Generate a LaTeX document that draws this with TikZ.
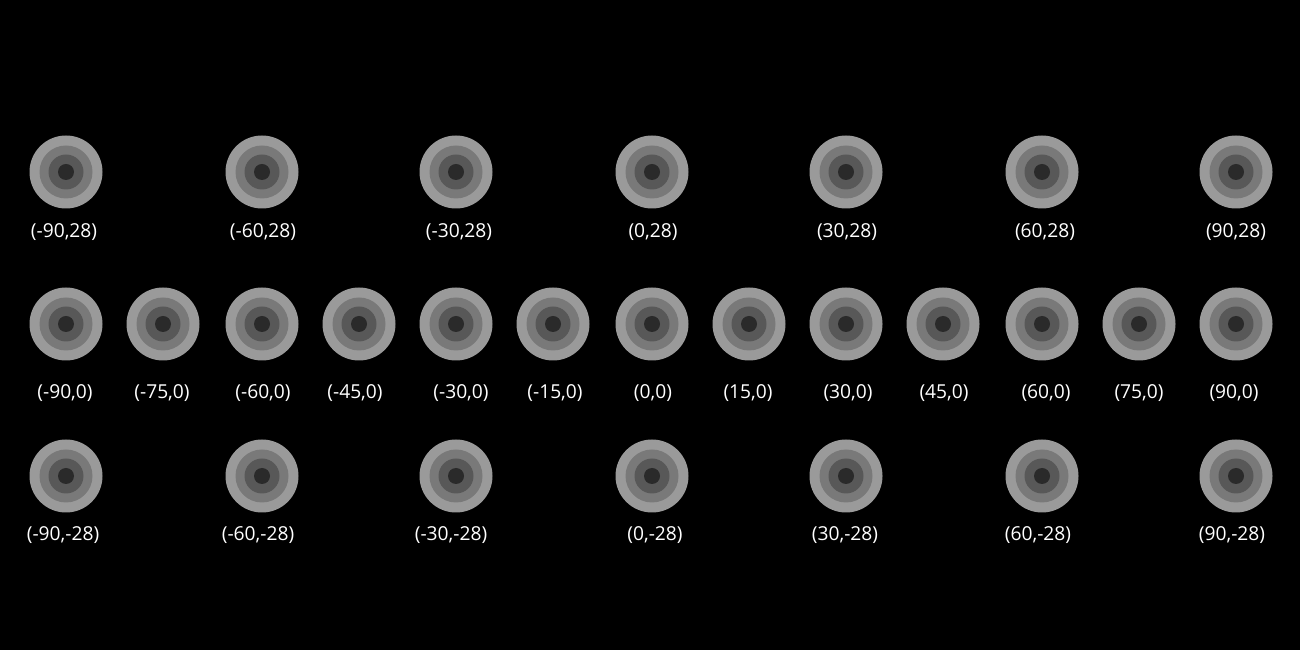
\documentclass[tikz,border=0pt]{standalone}
\usepackage{fontspec}
\setmainfont{Open Sans}
\usepackage{tikz}

\begin{document}
\begin{tikzpicture}[x=1pt,y=1pt]
\definecolor{ringa}{HTML}{9A9A9A}
\definecolor{ringb}{HTML}{797979}
\definecolor{ringc}{HTML}{585858}
\definecolor{ringd}{HTML}{2A2A2A}
\tikzset{
  target/.style={circle,fill=ringa,minimum size=73pt,inner sep=0pt,
    path picture={
      \fill[ringb] (path picture bounding box.center) circle (26.5pt);
      \fill[ringc] (path picture bounding box.center) circle (17.5pt);
      \fill[ringd] (path picture bounding box.center) circle (8pt);
    }},
  lbl/.style={text=white,font=\fontsize{19.2}{22}\selectfont,inner sep=0pt}
}
\fill[black] (0,0) rectangle (1300,650);
% top row
\node[target] (t1) at (66,478) {}; \node[lbl] (l1) at (64,418) {(-90,28)};
\node[target] (t2) at (262,478) {}; \node[lbl] (l2) at (263,418) {(-60,28)};
\node[target] (t3) at (456,478) {}; \node[lbl] (l3) at (459,418) {(-30,28)};
\node[target] (t4) at (652,478) {}; \node[lbl] (l4) at (653,418) {(0,28)};
\node[target] (t5) at (846,478) {}; \node[lbl] (l5) at (847,418) {(30,28)};
\node[target] (t6) at (1042,478) {}; \node[lbl] (l6) at (1045,418) {(60,28)};
\node[target] (t7) at (1236,478) {}; \node[lbl] (l7) at (1236,418) {(90,28)};
% middle row
\node[target] (m1) at (66,326) {}; \node[lbl] (n1) at (65,257) {(-90,0)};
\node[target] (m2) at (163,326) {}; \node[lbl] (n2) at (162,257) {(-75,0)};
\node[target] (m3) at (262,326) {}; \node[lbl] (n3) at (263,257) {(-60,0)};
\node[target] (m4) at (359,326) {}; \node[lbl] (n4) at (355,257) {(-45,0)};
\node[target] (m5) at (456,326) {}; \node[lbl] (n5) at (461,257) {(-30,0)};
\node[target] (m6) at (553,326) {}; \node[lbl] (n6) at (555,257) {(-15,0)};
\node[target] (m7) at (652,326) {}; \node[lbl] (n7) at (653,257) {(0,0)};
\node[target] (m8) at (749,326) {}; \node[lbl] (n8) at (748,257) {(15,0)};
\node[target] (m9) at (846,326) {}; \node[lbl] (n9) at (848,257) {(30,0)};
\node[target] (m10) at (943,326) {}; \node[lbl] (n10) at (944,257) {(45,0)};
\node[target] (m11) at (1042,326) {}; \node[lbl] (n11) at (1046,257) {(60,0)};
\node[target] (m12) at (1139,326) {}; \node[lbl] (n12) at (1139,257) {(75,0)};
\node[target] (m13) at (1236,326) {}; \node[lbl] (n13) at (1234,257) {(90,0)};
% bottom row
\node[target] (b1) at (66,174) {}; \node[lbl] (c1) at (63,115) {(-90,-28)};
\node[target] (b2) at (262,174) {}; \node[lbl] (c2) at (258,115) {(-60,-28)};
\node[target] (b3) at (456,174) {}; \node[lbl] (c3) at (451,115) {(-30,-28)};
\node[target] (b4) at (652,174) {}; \node[lbl] (c4) at (655,115) {(0,-28)};
\node[target] (b5) at (846,174) {}; \node[lbl] (c5) at (845,115) {(30,-28)};
\node[target] (b6) at (1042,174) {}; \node[lbl] (c6) at (1038,115) {(60,-28)};
\node[target] (b7) at (1236,174) {}; \node[lbl] (c7) at (1232,115) {(90,-28)};
\end{tikzpicture}
\end{document}
